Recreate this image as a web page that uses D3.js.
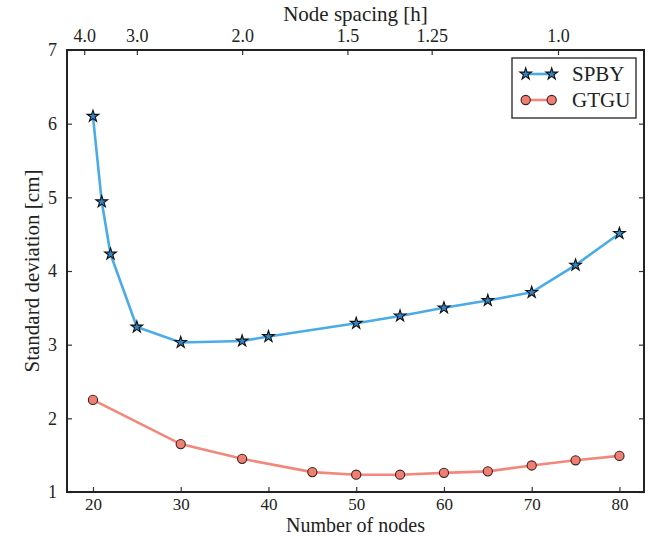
<!DOCTYPE html>
<html>
<head>
<meta charset="utf-8">
<script src="https://cdn.jsdelivr.net/npm/d3@7"></script>
<style>
body { margin: 0; background: #fff; }
text { font-family: "Liberation Serif", "DejaVu Serif", serif; fill: #222; }
</style>
</head>
<body>
<script>
var nodesSPBY = [20, 21, 22, 25, 30, 37, 40, 50, 55, 60, 65, 70, 75, 80];
var stdSPBY = [6.10, 4.94, 4.23, 3.24, 3.03, 3.05, 3.11, 3.29, 3.39, 3.50, 3.60, 3.71, 4.08, 4.51];
var nodesGTGU = [20, 30, 37, 45, 50, 55, 60, 65, 70, 75, 80];
var stdGTGU = [2.25, 1.65, 1.45, 1.27, 1.235, 1.235, 1.26, 1.28, 1.36, 1.43, 1.49];
var xTicks = [20, 30, 40, 50, 60, 70, 80];
var yTicks = [1, 2, 3, 4, 5, 6, 7];
var spacingTicks = [4.0, 3.0, 2.0, 1.5, 1.25, 1.0];
var spacingLabels = ["4.0", "3.0", "2.0", "1.5", "1.25", "1.0"];

var w = 648, h = 537;
var m = {left: 67, right: 4, top: 50, bottom: 45};

var svg = d3.select("body").append("svg")
    .attr("width", w)
    .attr("height", h);

var x = d3.scaleLinear().domain([17.04, 82.8]).range([m.left, w - m.right]);
var y = d3.scaleLinear().domain([1, 7]).range([h - m.bottom, m.top]);
// node spacing h relates to node count as N = 1 + 72/h
function spacingToNodes(s) { return 1 + 72 / s; }

var tickLen = 5;
var g = svg.append("g");

// bottom axis
var xAxis = d3.axisBottom(x).tickValues(xTicks).tickSizeInner(-tickLen).tickSizeOuter(0).tickPadding(6);
var gx = g.append("g").attr("transform", "translate(0," + (h - m.bottom) + ")").call(xAxis);

// top axis (node spacing)
var topAxis = d3.axisTop(x).tickValues(spacingTicks.map(spacingToNodes))
    .tickFormat(function(d, i){ return spacingLabels[i]; })
    .tickSizeInner(-tickLen).tickSizeOuter(0).tickPadding(8);
g.append("g").attr("transform", "translate(0," + m.top + ")").call(topAxis);

// left axis
var yAxis = d3.axisLeft(y).tickValues(yTicks).tickFormat(d3.format("d"))
    .tickSizeInner(-tickLen).tickSizeOuter(0).tickPadding(10);
g.append("g").attr("transform", "translate(" + m.left + ",0)").call(yAxis);

// right ticks
var yRight = d3.axisRight(y).tickValues(yTicks).tickSizeInner(-tickLen).tickSizeOuter(0).tickFormat("");
g.append("g").attr("transform", "translate(" + (w - m.right) + ",0)").call(yRight);

g.selectAll(".domain").remove();
g.selectAll(".tick line").attr("stroke", "#333").attr("stroke-width", 1.2);
g.selectAll(".tick text").style("font-family", "'Liberation Serif', serif")
    .style("font-size", "18px").attr("fill", "#222");
gx.selectAll(".tick text").style("font-size", "17px");

// frame
svg.append("rect")
    .attr("x", m.left).attr("y", m.top)
    .attr("width", w - m.right - m.left).attr("height", h - m.bottom - m.top)
    .attr("fill", "none").attr("stroke", "#222").attr("stroke-width", 2);

var line = d3.line()
    .x(function(d){ return x(d[0]); })
    .y(function(d){ return y(d[1]); });

var spby = d3.zip(nodesSPBY, stdSPBY);
var gtgu = d3.zip(nodesGTGU, stdGTGU);

var blueLine = "#4aace6", blueFill = "#2f86c9";
var redLine = "#f4877b", redFill = "#ef7f72";

svg.append("path").datum(gtgu).attr("d", line)
    .attr("fill", "none").attr("stroke", redLine).attr("stroke-width", 2.6);
svg.append("path").datum(spby).attr("d", line)
    .attr("fill", "none").attr("stroke", blueLine).attr("stroke-width", 2.6);

var star = d3.symbol().type(d3.symbolStar).size(42);

svg.selectAll("circle.gtgu")
    .data(gtgu)
    .enter()
    .append("circle")
    .attr("class", "gtgu")
    .attr("cx", function(d){ return x(d[0]); })
    .attr("cy", function(d){ return y(d[1]); })
    .attr("r", 4.6)
    .attr("fill", redFill)
    .attr("stroke", "#3a2220")
    .attr("stroke-width", 1.1);

svg.selectAll("path.spby")
    .data(spby)
    .enter()
    .append("path")
    .attr("class", "spby")
    .attr("d", star)
    .attr("transform", function(d){ return "translate(" + x(d[0]) + "," + y(d[1]) + ")"; })
    .attr("fill", blueFill)
    .attr("stroke", "#111")
    .attr("stroke-width", 1.1);

// axis labels
svg.append("text")
    .attr("x", (m.left + w - m.right) / 2).attr("y", 532)
    .attr("text-anchor", "middle")
    .style("font-size", "20px")
    .text("Number of nodes");
svg.append("text")
    .attr("x", (m.left + w - m.right) / 2).attr("y", 21)
    .attr("text-anchor", "middle")
    .style("font-size", "21px")
    .text("Node spacing [h]");
svg.append("text")
    .attr("transform", "translate(39," + ((m.top + h - m.bottom) / 2) + ") rotate(-90)")
    .attr("text-anchor", "middle")
    .style("font-size", "21px")
    .text("Standard deviation [cm]");

// legend
var lg = svg.append("g");
lg.append("rect")
    .attr("x", 512).attr("y", 58).attr("width", 124).attr("height", 60)
    .attr("fill", "#fff").attr("stroke", "#222").attr("stroke-width", 1.3);
var items = [
    {name: "SPBY", lc: blueLine, fc: blueFill, yy: 74, sym: "star"},
    {name: "GTGU", lc: redLine, fc: redFill, yy: 100, sym: "circle"}
];
items.forEach(function(it){
    lg.append("line").attr("x1", 525.7).attr("x2", 551.7).attr("y1", it.yy).attr("y2", it.yy)
        .attr("stroke", it.lc).attr("stroke-width", 2.6);
    [525.7, 551.7].forEach(function(px){
        if (it.sym == "star") {
            lg.append("path").attr("d", star)
                .attr("transform", "translate(" + px + "," + it.yy + ")")
                .attr("fill", it.fc).attr("stroke", "#111").attr("stroke-width", 1.1);
        } else {
            lg.append("circle").attr("cx", px).attr("cy", it.yy).attr("r", 4.6)
                .attr("fill", it.fc).attr("stroke", "#3a2220").attr("stroke-width", 1.1);
        }
    });
    lg.append("text").attr("x", 572).attr("y", it.yy + 7)
        .style("font-size", "21px").text(it.name);
});
</script>
</body>
</html>
